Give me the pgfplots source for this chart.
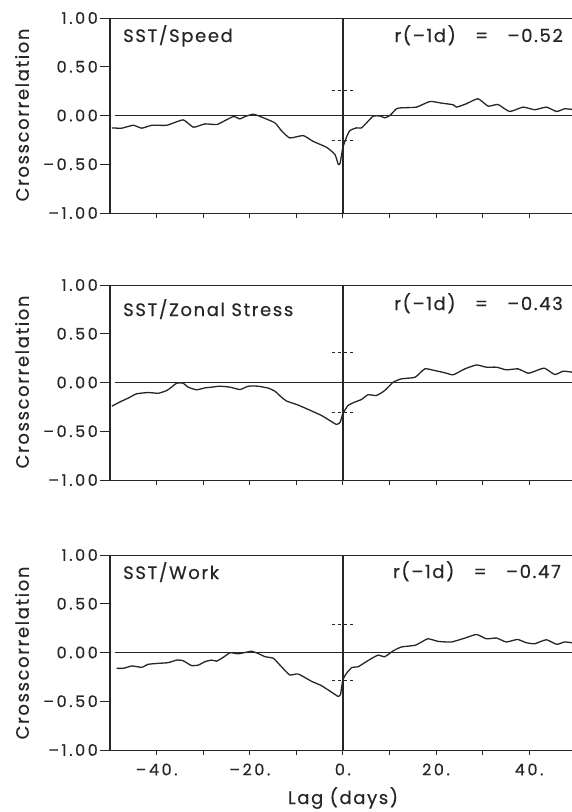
\documentclass[border=0pt]{standalone}
\usepackage{fontspec}
\setmainfont{Poppins}
\newfontfamily\tickfont[LetterSpace=16, FakeBold=0.4]{Poppins}
\newfontfamily\labfont[LetterSpace=9, FakeBold=0.4]{Poppins}
\usepackage{pgfplots}
\usepackage{pgfplotstable}
\pgfplotsset{compat=1.18}

\pgfplotstableread{
x y
-49.6 -0.127
-47.5 -0.13
-45.0 -0.10
-43.2 -0.13
-41.0 -0.10
-37.8 -0.10
-34.3 -0.045
-32.1 -0.12
-29.6 -0.086
-27.1 -0.093
-25.7 -0.062
-23.5 -0.01
-22.1 -0.035
-21.0 -0.01
-19.2 0.013
-17.4 -0.017
-14.6 -0.075
-13.2 -0.155
-11.4 -0.23
-8.5 -0.206
-6.4 -0.265
-3.5 -0.326
-1.7 -0.40
-1.0 -0.50
-0.6 -0.49
0.0 -0.33
0.8 -0.22
1.5 -0.155
2.9 -0.127
4.0 -0.127
5.1 -0.075
6.5 -0.007
8.0 -0.005
9.0 -0.024
10.1 0.0
11.5 0.069
12.6 0.079
15.8 0.086
18.7 0.144
21.2 0.127
23.7 0.11
24.4 0.086
26.5 0.12
29.0 0.172
31.2 0.096
33.3 0.113
35.8 0.041
38.7 0.086
41.2 0.059
43.7 0.086
45.9 0.041
47.6 0.069
49.2 0.062
}\speed

\pgfplotstableread{
x y
-49.6 -0.243
-47.9 -0.20
-46.1 -0.16
-44.3 -0.116
-41.8 -0.103
-39.6 -0.11
-37.8 -0.082
-36.8 -0.048
-35.7 -0.007
-34.3 -0.007
-33.2 -0.048
-31.4 -0.075
-29.6 -0.055
-28.2 -0.048
-26.4 -0.038
-24.2 -0.048
-22.1 -0.072
-20.3 -0.038
-18.2 -0.038
-16.0 -0.058
-14.6 -0.089
-13.2 -0.15
-12.1 -0.19
-9.9 -0.226
-7.4 -0.277
-4.6 -0.338
-2.8 -0.39
-1.4 -0.43
-0.6 -0.41
0.0 -0.32
1.1 -0.236
2.6 -0.20
4.0 -0.174
5.4 -0.126
7.2 -0.133
9.0 -0.082
10.8 0.003
12.6 0.038
15.5 0.054
17.6 0.14
19.7 0.123
21.9 0.10
23.7 0.079
26.2 0.14
28.7 0.18
30.8 0.157
33.0 0.157
35.1 0.13
37.6 0.14
39.8 0.095
41.6 0.123
43.3 0.147
45.5 0.082
47.3 0.116
49.2 0.106
}\zonal

\pgfplotstableread{
x y
-48.6 -0.162
-47.1 -0.162
-45.3 -0.138
-43.2 -0.152
-41.8 -0.121
-39.6 -0.111
-37.5 -0.104
-35.7 -0.078
-34.3 -0.084
-32.5 -0.134
-31.0 -0.128
-29.6 -0.094
-28.2 -0.078
-27.1 -0.088
-25.7 -0.05
-24.2 -0.003
-22.5 -0.013
-21.0 0.0
-19.6 0.013
-18.2 -0.01
-16.7 -0.043
-14.9 -0.06
-13.2 -0.145
-11.4 -0.23
-9.6 -0.22
-6.7 -0.296
-4.6 -0.34
-1.7 -0.43
-1.0 -0.45
-0.5 -0.43
0.0 -0.28
0.8 -0.212
1.9 -0.155
3.3 -0.145
4.7 -0.104
6.2 -0.06
7.6 -0.027
9.0 -0.043
10.8 0.017
12.6 0.057
15.5 0.074
16.9 0.108
18.3 0.141
20.5 0.114
23.3 0.108
26.2 0.148
28.7 0.185
30.8 0.141
33.0 0.148
35.1 0.108
37.5 0.134
39.4 0.10
41.2 0.09
43.7 0.131
45.9 0.084
47.6 0.108
49.2 0.10
}\work

\definecolor{ink}{gray}{0.15}

\pgfplotsset{
  panel/.style={
    anchor=north west,
    scale only axis,
    width=462pt,
    height=195pt,
    xmin=-50, xmax=49.2,
    ymin=-1, ymax=1,
    axis line style={draw=none},
    tick align=outside,
    xtick pos=bottom,
    ytick pos=left,
    xtick={-40,-30,-20,-10,0,10,20,30,40},
    xticklabels={},
    ytick=\empty,
    minor ytick={-0.75,-0.25,0.25,0.75},
    extra y ticks={-1,-0.5,0,0.5,1},
    extra y tick labels={–1.00,–0.50,0.00,0.50,1.00},
    extra y tick style={major tick length=10pt, tick style={line width=1pt, ink}},
    major tick length=5pt,
    minor tick length=5pt,
    tick style={line width=1pt, ink},
    yticklabel style={font=\tickfont\fontsize{16}{18}\selectfont, text=ink, inner xsep=0pt, xshift=-2pt},
    xticklabel style={font=\tickfont\fontsize{16}{18}\selectfont, text=ink, yshift=-5pt},
    clip=false,
  },
  curve/.style={ink, line width=1.3pt, no marks, smooth, tension=0.3},
}

\newcommand{\panelframe}[1]{%
  \draw[ink, line width=1.8pt] (rel axis cs:0,0) -- (rel axis cs:0,1);
  \draw[ink, line width=0.9pt] (rel axis cs:0,1) -- (rel axis cs:1,1);
  \draw[ink, line width=0.9pt] (rel axis cs:0,0) -- (rel axis cs:1,0);
  \draw[ink, line width=1pt] (axis cs:-49,0) -- (axis cs:49.2,0);
  \draw[ink, line width=1.8pt] (axis cs:0,-1) -- (axis cs:0,1);
  \draw[ink, line width=0.8pt, dash pattern=on 3pt off 3pt] (axis cs:-2.3,#1) -- (axis cs:2.3,#1);
  \draw[ink, line width=0.8pt, dash pattern=on 3pt off 3pt] (axis cs:-2.3,-#1) -- (axis cs:2.3,-#1);
}

\begin{document}
\begin{tikzpicture}[x=1pt,y=1pt]
\useasboundingbox (0,-812) rectangle (572,0);

\begin{axis}[panel, at={(110pt,-18pt)}]
\panelframe{0.26}
\addplot[curve] table {\speed};
\end{axis}

\begin{axis}[panel, at={(110pt,-285pt)}]
\panelframe{0.31}
\addplot[curve] table {\zonal};
\end{axis}

\begin{axis}[panel, at={(110pt,-555pt)},
  xticklabels={–40.,,–20.,,0.,,20.,,40.}]
\panelframe{0.285}
\addplot[curve] table {\work};
\end{axis}

\begin{scope}[every node/.style={text=ink, inner sep=0pt}]
\node[rotate=90, font=\labfont\fontsize{18}{20}\selectfont] at (22,-115) {Crosscorrelation};
\node[rotate=90, font=\labfont\fontsize{18}{20}\selectfont] at (22,-382) {Crosscorrelation};
\node[rotate=90, font=\labfont\fontsize{18}{20}\selectfont] at (22,-653) {Crosscorrelation};

\node[anchor=base west, font=\labfont\fontsize{18}{20}\selectfont] at (123,-42) {SST/Speed};
\node[anchor=base west, font=\labfont\fontsize{18}{20}\selectfont] at (123,-316) {SST/Zonal Stress};
\node[anchor=base west, font=\labfont\fontsize{18}{20}\selectfont] at (123,-579) {SST/Work};

\node[anchor=base east, font=\labfont\fontsize{18}{20}\selectfont] at (563,-42) {r(–1d)\ \ \ =\ \ \ –0.52};
\node[anchor=base east, font=\labfont\fontsize{18}{20}\selectfont] at (563,-310) {r(–1d)\ \ \ =\ \ \ –0.43};
\node[anchor=base east, font=\labfont\fontsize{18}{20}\selectfont] at (561,-578) {r(–1d)\ \ \ =\ \ \ –0.47};

\node[anchor=base, font=\labfont\fontsize{18}{20}\selectfont] at (343,-804) {Lag (days)};
\end{scope}
\end{tikzpicture}
\end{document}
